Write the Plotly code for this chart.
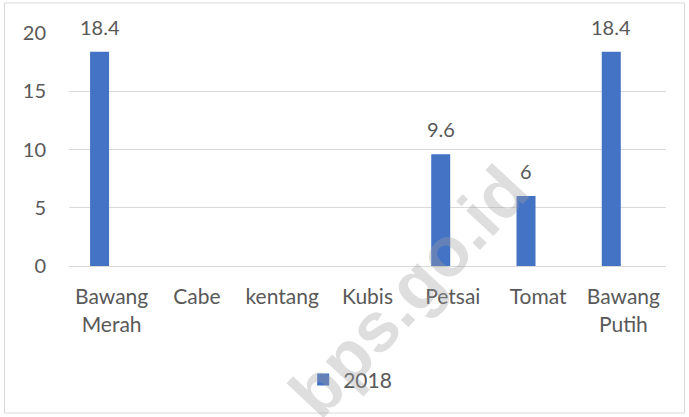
import plotly.graph_objects as go

categories = ["Bawang<br>Merah", "Cabe", "kentang", "Kubis", "Petsai", "Tomat", "Bawang<br>Putih"]
values_2018 = [18.4, None, None, None, 9.6, 6, 18.4]
series_name = "2018"
y_ticks = [0, 5, 10, 15, 20]

BAR = "#4472C4"
TXT = "#595959"
GRID = "#D9D9D9"
FONT = "Lato"

fig = go.Figure()
fig.add_trace(go.Bar(
    x=categories, y=values_2018, name=series_name,
    marker=dict(color=BAR, line=dict(width=0)),
    width=0.223, offset=-0.253,
    showlegend=True,
))

for c, v in zip(categories, values_2018):
    if v is None:
        continue
    fig.add_annotation(x=c, y=v, text=f"{v:g}", showarrow=False,
                       xshift=-12, yshift=25, yanchor="middle",
                       font=dict(family=FONT, size=20, color=TXT))

# watermark
fig.add_annotation(x=0.535, y=-0.2, xref="paper", yref="paper",
                   text="<b>a.bps.go.id</b>", showarrow=False, textangle=-47,
                   font=dict(family="Liberation Sans", size=70, color="rgba(160,160,160,0.35)"),
                   xanchor="center", yanchor="middle")

# outer chart border
fig.add_shape(type="rect", xref="paper", yref="paper",
              x0=-0.108, x1=1.031, y0=-0.631, y1=1.129,
              line=dict(color=GRID, width=1), fillcolor="rgba(0,0,0,0)", layer="below")

fig.update_layout(
    width=689, height=417,
    margin=dict(l=69, r=23, t=33, b=151),
    paper_bgcolor="white", plot_bgcolor="white",
    font=dict(family=FONT, size=20, color=TXT),
    showlegend=True,
    legend=dict(orientation="h", x=0.471, y=-0.489, xanchor="center", yanchor="middle",
                font=dict(family=FONT, size=21, color=TXT), itemwidth=30,
                bgcolor="rgba(0,0,0,0)"),
    xaxis=dict(showgrid=False, showline=True, linecolor=GRID, linewidth=1,
               ticks="", tickfont=dict(family=FONT, size=21, color=TXT),
               ticklabelstandoff=12, fixedrange=True),
    yaxis=dict(range=[0, 20], tickvals=y_ticks, showgrid=True, gridcolor=GRID, gridwidth=1,
               zeroline=True, zerolinecolor=GRID, zerolinewidth=1, showline=False,
               ticks="", tickfont=dict(family=FONT, size=20, color=TXT),
               ticklabelstandoff=22, fixedrange=True),
)

fig.write_html("out.html", config={"displayModeBar": False},
               post_script="document.body.style.margin='0';document.body.style.overflow='hidden';")
